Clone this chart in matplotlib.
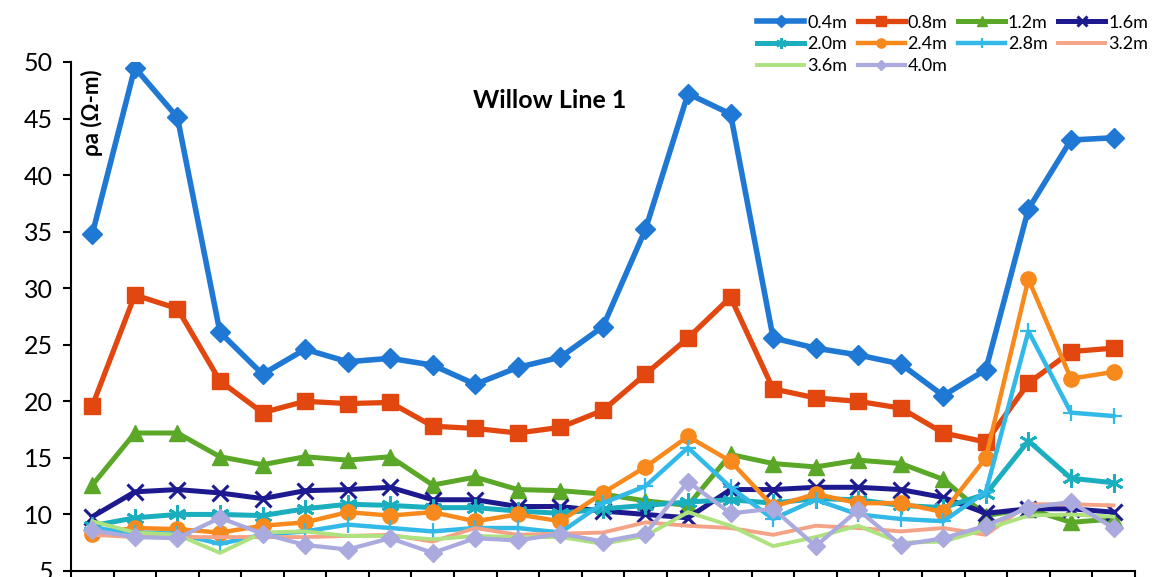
import numpy as np
import matplotlib
matplotlib.use("Agg")
import matplotlib.pyplot as plt

plt.rcParams['font.family'] = ['Lato', 'DejaVu Sans']

# Station index along the line (25 readings)
stations = list(range(25))

depths = ["0.4m", "0.8m", "1.2m", "1.6m", "2.0m", "2.4m", "2.8m", "3.2m", "3.6m", "4.0m"]

rho_04 = [34.8, 49.5, 45.1, 26.1, 22.4, 24.6, 23.5, 23.8, 23.2, 21.5, 23.0, 23.9, 26.6,
          35.2, 47.2, 45.4, 25.6, 24.7, 24.1, 23.3, 20.5, 22.8, 37.0, 43.1, 43.3]
rho_08 = [19.6, 29.4, 28.2, 21.8, 19.0, 20.0, 19.8, 19.9, 17.8, 17.6, 17.2, 17.7, 19.2,
          22.4, 25.6, 29.2, 21.1, 20.3, 20.0, 19.4, 17.2, 16.4, 21.6, 24.4, 24.7]
rho_12 = [12.6, 17.2, 17.2, 15.1, 14.4, 15.1, 14.8, 15.1, 12.6, 13.3, 12.2, 12.1, 11.8,
          11.2, 10.8, 15.3, 14.5, 14.2, 14.8, 14.5, 13.1, 9.9, 10.5, 9.3, 9.6]
rho_16 = [9.8, 12.0, 12.2, 11.9, 11.4, 12.1, 12.2, 12.4, 11.3, 11.3, 10.7, 10.7, 10.3,
          10.0, 9.7, 12.2, 12.2, 12.4, 12.4, 12.2, 11.5, 10.1, 10.5, 10.5, 10.2]
rho_20 = [9.0, 9.7, 10.0, 10.0, 9.9, 10.5, 10.9, 10.8, 10.6, 10.6, 10.3, 10.1, 10.5,
          10.8, 11.1, 11.3, 11.0, 11.4, 11.3, 10.8, 10.6, 11.8, 16.5, 13.2, 12.8]
rho_24 = [8.3, 8.8, 8.7, 8.4, 9.0, 9.3, 10.2, 9.9, 10.2, 9.4, 10.0, 9.4, 11.9,
          14.2, 16.9, 14.7, 10.7, 11.8, 11.0, 11.0, 10.2, 15.0, 30.8, 22.0, 22.6]
rho_28 = [8.8, 8.4, 8.3, 7.4, 8.2, 8.5, 9.1, 8.8, 8.5, 8.8, 8.8, 8.4, 11.0,
          12.5, 15.9, 12.4, 9.6, 11.3, 10.0, 9.6, 9.4, 12.0, 26.2, 19.0, 18.7]
rho_32 = [8.2, 8.0, 8.0, 8.0, 8.0, 8.0, 8.1, 8.2, 7.6, 8.8, 8.2, 8.3, 8.4,
          9.3, 9.0, 8.8, 8.2, 9.0, 8.8, 8.5, 8.8, 8.2, 10.9, 10.9, 10.8]
rho_36 = [9.4, 8.4, 8.2, 6.6, 8.4, 8.5, 8.1, 8.1, 7.8, 8.1, 8.0, 8.0, 7.4,
          8.1, 10.2, 9.0, 7.2, 8.0, 9.0, 7.5, 7.6, 8.7, 9.9, 10.0, 9.8]
rho_40 = [8.6, 8.0, 7.9, 9.7, 8.3, 7.3, 6.9, 7.9, 6.6, 7.9, 7.7, 8.3, 7.6,
          8.3, 12.9, 10.1, 10.5, 7.2, 10.4, 7.3, 7.9, 9.0, 10.6, 11.1, 8.8]

series = [rho_04, rho_08, rho_12, rho_16, rho_20, rho_24, rho_28, rho_32, rho_36, rho_40]

colors = ["#1F78D4", "#E2470F", "#5BA829", "#1C1A8E", "#1BAEBF",
          "#F7891D", "#33B9E8", "#F5A387", "#AEE27E", "#AAAADE"]
styles = [
    dict(marker="D", ms=10, lw=4.0),
    dict(marker="s", ms=11, lw=3.8),
    dict(marker="^", ms=11, lw=3.6),
    dict(marker="x", ms=12, lw=3.6, mew=2.2),
    dict(marker=(6, 2, 0), ms=13, lw=3.6, mew=2.0),
    dict(marker="o", ms=11, lw=3.2),
    dict(marker="+", ms=12, lw=3.2, mew=1.6),
    dict(marker=None, lw=2.8),
    dict(marker=None, lw=2.8),
    dict(marker="D", ms=9, lw=3.0),
]

fig = plt.figure(figsize=(11.55, 5.77), dpi=100)
ax = fig.add_axes([0.0615, 0.0104, 0.921, 0.8822])

handles = []
for name, vals, col, st in zip(depths, series, colors, styles):
    line, = ax.plot(stations, vals, color=col, label=name, solid_joinstyle="round", **st)
    handles.append(line)

ax.set_xlim(-0.5, 24.5)
ax.set_ylim(5, 50)
ax.set_yticks(np.arange(5, 51, 5))
ax.set_xticks(np.arange(-0.5, 25, 1))
ax.set_xticklabels([])
ax.tick_params(axis="y", labelsize=18, length=6, width=1.5, direction="out", pad=7)
ax.tick_params(axis="x", length=8, width=1.5, direction="out")
for side in ("top", "right"):
    ax.spines[side].set_visible(False)
for side in ("left", "bottom"):
    ax.spines[side].set_linewidth(1.5)

ax.text(0.02, 0.985, "ρa (Ω-m)", transform=ax.transAxes, rotation=90,
        ha="center", va="top", fontsize=16, fontweight="bold")
ax.text(0.45, 0.925, "Willow Line 1", transform=ax.transAxes, ha="center", va="center",
        fontsize=18, fontweight="bold")

# legend laid out row by row: 4 entries per row
order = [0, 4, 8, 1, 5, 9, 2, 6, 3, 7]
fig.legend([handles[i] for i in order], [depths[i] for i in order],
           loc="upper right", bbox_to_anchor=(1.008, 1.003), ncol=4, frameon=False,
           fontsize=13, handlelength=2.6, handletextpad=0.15, columnspacing=0.6,
           labelspacing=0.32, markerscale=0.6)

fig.savefig("out.png", dpi=100)
